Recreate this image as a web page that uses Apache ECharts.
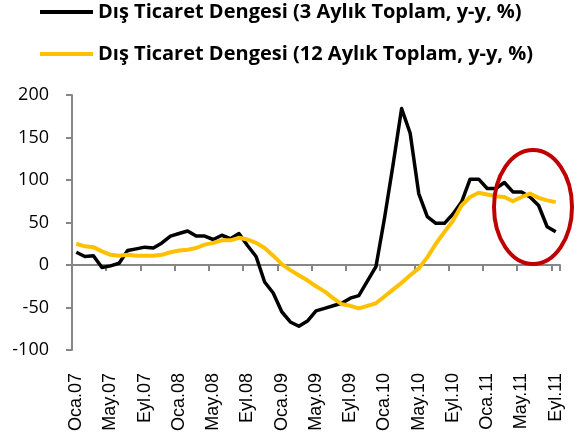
<!DOCTYPE html>
<html>
<head>
<meta charset="utf-8">
<style>
html,body{margin:0;padding:0;background:#fff;}
#chart{width:582px;height:439px;}
</style>
<script src="https://cdn.jsdelivr.net/npm/echarts@6/dist/echarts.min.js"></script>
</head>
<body>
<div id="chart"></div>
<script>
// Month labels (Turkish), Jan 2007 .. Sep 2011
var monthNames = ['Oca','Şub','Mar','Nis','May','Haz','Tem','Ağu','Eyl','Eki','Kas','Ara'];
var years = ['07','08','09','10','11'];
var categories = [];
years.forEach(function (y) {
  monthNames.forEach(function (m) { categories.push(m + '.' + y); });
});
categories = categories.slice(0, 57);

var seriesNames = [
  'Dış Ticaret Dengesi (3 Aylık Toplam, y-y, %)',
  'Dış Ticaret Dengesi (12 Aylık Toplam, y-y, %)'
];

// 3-month total, y-y %
var quarterly = [15, 10, 11, -3, -1, 2, 17, 19, 21, 20, 26, 34, 37, 40, 34, 34, 30, 35, 31, 37,
  23, 10, -20, -33, -55, -67, -72, -66, -54, -51, -48, -45, -39, -36, -19, -2, 55, 118, 184, 155,
  84, 57, 49, 49, 60, 74, 101, 101, 90, 90, 97, 86, 86, 80, 70, 45, 39];

// 12-month total, y-y %
var annual = [25, 22, 21, 16, 12, 11, 12, 11, 11, 11, 12, 15, 17, 18, 20, 24, 26, 29, 29, 32,
  30, 26, 20, 11, 1, -6, -12, -18, -25, -31, -39, -46, -48, -51, -48, -45, -37, -29, -21, -12,
  -4, 9, 25, 39, 52, 70, 80, 85, 83, 81, 80, 75, 80, 84, 79, 76, 74];

var yMin = -100, yMax = 200, yStep = 50;

var axisGray = '#868686';
var chart = echarts.init(document.getElementById('chart'));

var legendText = { fontFamily: 'Open Sans', fontWeight: 'bold', fontSize: 20, color: '#000', lineHeight: 24 };

chart.setOption({
  animation: false,
  legend: [
    { data: [seriesNames[0]], left: 40, top: 0, padding: 0, icon: 'rect', itemWidth: 53, itemHeight: 4, textStyle: legendText, selectedMode: false },
    { data: [seriesNames[1]], left: 40, top: 42, padding: 0, icon: 'rect', itemWidth: 53, itemHeight: 4, textStyle: legendText, selectedMode: false }
  ],
  grid: { left: 72, right: 22, top: 95, bottom: 89, containLabel: false },
  xAxis: [
    {
      type: 'category', data: categories, boundaryGap: true,
      axisLine: { onZero: true, lineStyle: { color: axisGray, width: 2 } },
      axisTick: { show: true, interval: 3, length: 6, inside: false, lineStyle: { color: axisGray, width: 2 } },
      axisLabel: { show: false },
      splitLine: { show: false }
    },
    {
      type: 'category', data: categories, boundaryGap: true, position: 'bottom',
      axisLine: { show: false, onZero: false },
      axisTick: { show: false },
      axisLabel: { show: true, interval: 3, rotate: 90, margin: 23, fontFamily: 'Liberation Sans', fontSize: 18, color: '#000' },
      splitLine: { show: false }
    }
  ],
  yAxis: {
    type: 'value', min: yMin, max: yMax, interval: yStep,
    axisLine: { show: true, lineStyle: { color: axisGray, width: 2 } },
    axisTick: { show: true, length: 6, lineStyle: { color: axisGray, width: 2 } },
    axisLabel: { margin: 23, fontFamily: 'Open Sans', fontSize: 18, color: '#000' },
    splitLine: { show: false }
  },
  series: [
    {
      name: seriesNames[0], type: 'line', data: quarterly, xAxisIndex: 0,
      symbol: 'none', color: '#000000',
      lineStyle: { width: 3.5, color: '#000000', join: 'round' }
    },
    {
      name: seriesNames[1], type: 'line', data: annual, xAxisIndex: 0,
      symbol: 'none', color: '#FFC000',
      lineStyle: { width: 4, color: '#FFC000', join: 'round' }
    }
  ],
  graphic: [
    {
      type: 'ellipse', silent: true, z: 100,
      shape: { cx: 533, cy: 207, rx: 39, ry: 57 },
      style: { fill: null, stroke: '#C00000', lineWidth: 4 }
    }
  ]
});
</script>
</body>
</html>
